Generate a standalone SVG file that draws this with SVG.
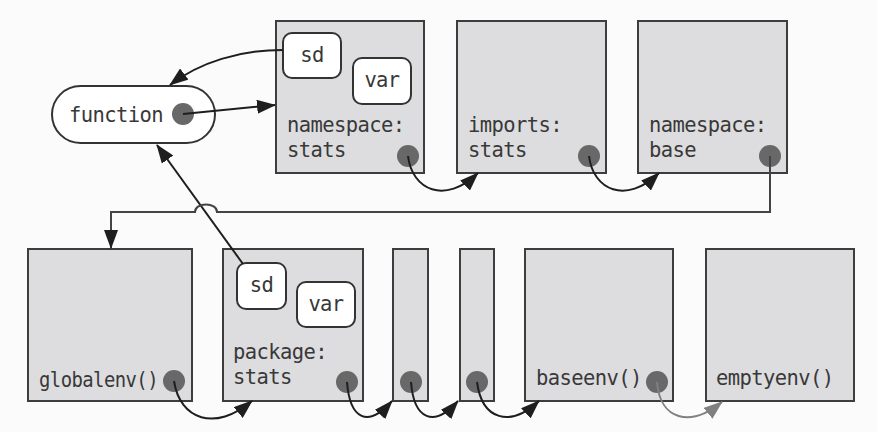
<svg xmlns="http://www.w3.org/2000/svg" width="877" height="442" viewBox="0 0 877 442">
<style>
.env{fill:#dddddf;stroke:#3d3d3d;stroke-width:2}
.var{fill:#ffffff;stroke:#333333;stroke-width:2}
.dot{fill:#686868}
.t{font-family:"DejaVu Sans Mono","Liberation Mono",monospace;font-size:20.5px;letter-spacing:-0.6px;fill:#383838}
.c{fill:none;stroke:#1e1e1e;stroke-width:2}
.cg{fill:none;stroke:#808080;stroke-width:2}
.cl{fill:none;stroke:#444444;stroke-width:2}
</style>
<defs>
<marker id="ah" markerUnits="userSpaceOnUse" markerWidth="19" markerHeight="14" refX="18" refY="7" orient="auto">
<path d="M0,0 L19,7 L0,14 z" fill="#1e1e1e"/>
</marker>
<marker id="ahg" markerUnits="userSpaceOnUse" markerWidth="19" markerHeight="14" refX="18" refY="7" orient="auto">
<path d="M0,0 L19,7 L0,14 z" fill="#808080"/>
</marker>
</defs>
<rect x="0" y="0" width="877" height="442" fill="#fbfbfb"/>
<rect x="0" y="432" width="877" height="10" fill="#ffffff"/>

<g id="function">
<rect x="52" y="86" width="163" height="57" rx="28.5" fill="#ffffff" stroke="#333333" stroke-width="2"/>
<text class="t" x="69" y="122">function</text>
<circle class="dot" cx="183" cy="114" r="11"/>
</g>

<g id="namespace-stats">
<rect class="env" x="276" y="21" width="148" height="152"/>
<rect class="var" x="283" y="33" width="58" height="45" rx="9"/>
<text class="t" x="312" y="62" text-anchor="middle">sd</text>
<rect class="var" x="353" y="58" width="58" height="46" rx="9"/>
<text class="t" x="382" y="87" text-anchor="middle">var</text>
<text class="t" x="287" y="132">namespace:</text>
<text class="t" x="287" y="157">stats</text>
<circle class="dot" cx="408" cy="156" r="11"/>
</g>

<g id="imports-stats">
<rect class="env" x="457" y="21" width="149" height="152"/>
<text class="t" x="468" y="132">imports:</text>
<text class="t" x="468" y="157">stats</text>
<circle class="dot" cx="589" cy="156" r="11"/>
</g>

<g id="namespace-base">
<rect class="env" x="638" y="21" width="149" height="152"/>
<text class="t" x="649" y="132">namespace:</text>
<text class="t" x="649" y="157">base</text>
<circle class="dot" cx="770" cy="156" r="11"/>
</g>

<g id="globalenv">
<rect class="env" x="28" y="249" width="164" height="152"/>
<text class="t" x="39" y="387" textLength="119" lengthAdjust="spacingAndGlyphs">globalenv()</text>
<circle class="dot" cx="174" cy="381" r="11"/>
</g>

<g id="package-stats">
<rect class="env" x="223" y="249" width="140" height="152"/>
<rect class="var" x="237" y="263" width="49" height="46" rx="9"/>
<text class="t" x="261.5" y="292" text-anchor="middle">sd</text>
<rect class="var" x="297" y="282" width="58" height="45" rx="9"/>
<text class="t" x="326" y="311" text-anchor="middle">var</text>
<text class="t" x="233" y="359">package:</text>
<text class="t" x="233" y="384">stats</text>
<circle class="dot" cx="347" cy="382" r="11"/>
</g>

<g id="env-a">
<rect class="env" x="393" y="249" width="35" height="152"/>
<circle class="dot" cx="411" cy="382" r="11"/>
</g>

<g id="env-b">
<rect class="env" x="460" y="249" width="34" height="152"/>
<circle class="dot" cx="477" cy="382" r="11"/>
</g>

<g id="baseenv">
<rect class="env" x="525" y="249" width="148" height="152"/>
<text class="t" x="536" y="385">baseenv()</text>
<circle class="dot" cx="657" cy="382" r="11"/>
</g>

<g id="emptyenv">
<rect class="env" x="706" y="249" width="148" height="152"/>
<text class="t" x="716" y="385">emptyenv()</text>
</g>

<g id="connectors">
<path class="c" d="M283,50 C240,50 200,62 170,85" marker-end="url(#ah)"/>
<path class="c" d="M183,114 L275,105" marker-end="url(#ah)"/>
<path class="c" d="M243,264 L157,145" marker-end="url(#ah)"/>
<path class="c" d="M408,156 C412,190 445,205 478,173" marker-end="url(#ah)"/>
<path class="c" d="M589,156 C593,190 626,205 659,173" marker-end="url(#ah)"/>
<path class="cl" d="M770,156 V212 H217 C217,202 195,202 195,212 H111 V248" marker-end="url(#ah)"/>
<path class="c" d="M174,381 C180,420 215,432 252,401" marker-end="url(#ah)"/>
<path class="c" d="M347,382 C350,420 368,428 392,401" marker-end="url(#ah)"/>
<path class="c" d="M411,382 C414,420 434,428 458,401" marker-end="url(#ah)"/>
<path class="c" d="M477,382 C482,420 510,428 539,401" marker-end="url(#ah)"/>
<path class="cg" d="M657,382 C660,420 690,428 722,402" marker-end="url(#ahg)"/>
</g>
</svg>
